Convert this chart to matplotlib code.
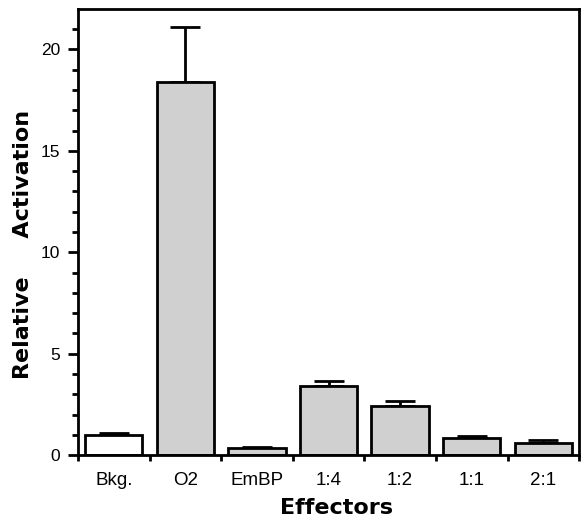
import matplotlib
matplotlib.use("Agg")
import matplotlib.pyplot as plt
import numpy as np

plt.rcParams['font.family'] = ['Liberation Sans', 'DejaVu Sans']

effectors = ["Bkg.", "O2", "EmBP", "1:4", "1:2", "1:1", "2:1"]
activation = [1.0, 18.4, 0.35, 3.4, 2.43, 0.84, 0.62]
err_upper = [0.1, 2.7, 0.05, 0.25, 0.24, 0.1, 0.12]
fills = ["white", "#d0d0d0", "#d0d0d0", "#d0d0d0", "#d0d0d0", "#d0d0d0", "#d0d0d0"]

fig = plt.figure(figsize=(5.82, 5.22), dpi=100)
ax = fig.add_axes([0.134, 0.128, 0.861, 0.855])

x = np.arange(len(effectors))
ax.bar(x, activation, width=0.8, color=fills, edgecolor="black", linewidth=2, zorder=2)
ax.errorbar(x, activation, yerr=[np.zeros(len(x)), err_upper], fmt="none",
            ecolor="black", elinewidth=2, capsize=11, capthick=2, zorder=1)

ax.set_xlim(-0.5, len(effectors) - 0.5)
ax.set_ylim(0, 22)

# labels sit under the bars, the tick marks go between them
ax.set_xticks(x)
ax.set_xticklabels(effectors, fontsize=13.5)
ax.tick_params(axis="x", which="major", length=0, pad=12)
ax.set_xticks(np.arange(-0.5, len(effectors), 1.0), minor=True)
ax.tick_params(axis="x", which="minor", direction="out", length=4, width=2)

ax.set_yticks([0, 5, 10, 15, 20])
ax.set_yticks(np.arange(0, 22, 1), minor=True)
ax.tick_params(axis="y", which="major", direction="out", length=7, width=2,
               labelsize=12.5, pad=6)
ax.tick_params(axis="y", which="minor", direction="out", length=4, width=2)

for s in ax.spines.values():
    s.set_linewidth(2)

ax.set_xlabel("Effectors", fontsize=16, fontweight="bold", family="DejaVu Sans")
ax.xaxis.set_label_coords(0.515, -0.096)
ax.set_ylabel("Relative     Activation", fontsize=16, fontweight="bold", family="DejaVu Sans")
ax.yaxis.set_label_coords(-0.09, 0.472)

fig.savefig("out.png", dpi=100)
